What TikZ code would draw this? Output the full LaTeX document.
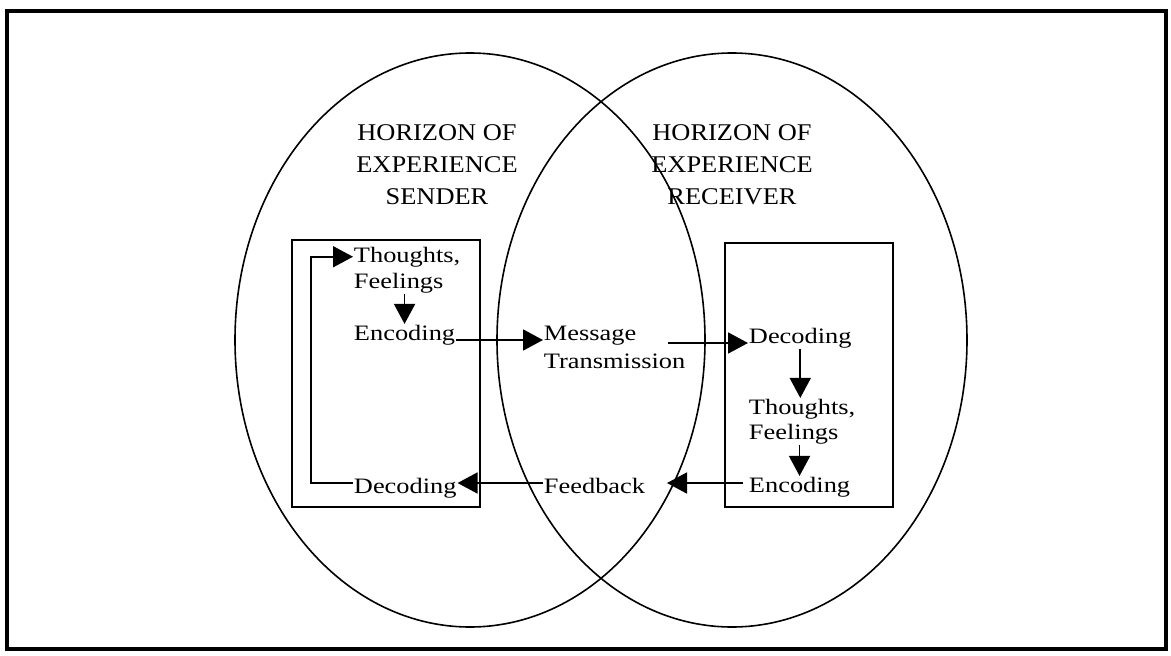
\documentclass[tikz,border=0pt]{standalone}
\usepackage{fontspec}
\setmainfont{Liberation Serif}
\usetikzlibrary{arrows.meta,positioning}

\begin{document}
\begin{tikzpicture}[x=1pt,y=-1pt,line width=1.6pt,
  txt/.style={font=\fontsize{22}{26}\selectfont,inner sep=0pt,anchor=base west,
    xscale=1.2,transform shape},
  head/.style={font=\fontsize{24}{32}\selectfont,inner sep=0pt,align=center,
    anchor=north,xscale=1.1,transform shape},
  arr/.style={-{Triangle[length=20pt,width=21pt]},line width=1.8pt}]
  \useasboundingbox (0,0) rectangle (1171,656);
  \draw[line width=3.5pt] (7,11) rectangle (1166,649);

  % horizons
  \draw (470,340) ellipse [x radius=235,y radius=287];
  \draw (732,340) ellipse [x radius=235,y radius=287];
  \node[head] (hs) at (437,124) {HORIZON OF\\EXPERIENCE\\SENDER};
  \node[head] (hr) at (732,124) {HORIZON OF\\EXPERIENCE\\RECEIVER};

  % boxes
  \draw (292,240) rectangle (480,507);
  \draw (725,243) rectangle (893,507);

  % sender
  \node[txt] (t1) at (353,262) {Thoughts,};
  \node[txt] (f1) at (353,288) {Feelings};
  \node[txt] (e1) at (353,340) {Encoding};
  \node[txt] (d1) at (353,493) {Decoding};

  % middle
  \node[txt] (ms) at (543,340) {Message};
  \node[txt] (tr) at (543,368) {Transmission};
  \node[txt] (fb) at (543,493) {Feedback};

  % receiver
  \node[txt] (d2) at (748,343) {Decoding};
  \node[txt] (t2) at (748,414) {Thoughts,};
  \node[txt] (f2) at (748,439) {Feelings};
  \node[txt] (e2) at (748,492) {Encoding};

  \coordinate (loop) at (311,483);
  \coordinate (msout) at (668,343);
  \coordinate (e2out) at (743,483);
  \coordinate (fbin) at (667,483);

  \draw[arr] (e1.north |- f1.south) -- (e1.north);
  \draw[arr] (e1.base east) -- (ms.base west);
  \draw[arr] (msout) -- (d2.base west |- msout);
  \draw[arr] (d2.south) -- (d2.south |- t2.north);
  \draw[arr] (e2.north |- f2.south) -- (e2.north);
  \draw[arr] (e2out) -- (fbin);
  \draw[arr] (fb.base west |- fbin) -- (d1.base east |- fbin);
  \draw[arr] (d1.west |- loop) -- (loop) |- (t1.west);
\end{tikzpicture}
\end{document}
